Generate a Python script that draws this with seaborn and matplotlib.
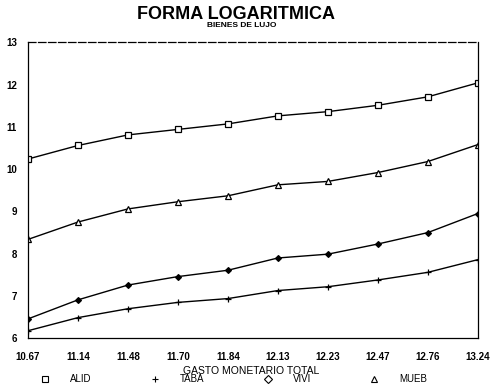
import numpy as np
import seaborn as sns
import matplotlib.pyplot as plt
from matplotlib.lines import Line2D

gasto = ['10.67', '11.14', '11.48', '11.70', '11.84', '12.13', '12.23', '12.47', '12.76', '13.24']
alid = [10.24, 10.56, 10.81, 10.94, 11.07, 11.26, 11.36, 11.51, 11.71, 12.04]
taba = [6.18, 6.49, 6.70, 6.85, 6.94, 7.13, 7.22, 7.38, 7.56, 7.86]
vivi = [6.46, 6.91, 7.26, 7.46, 7.61, 7.90, 7.99, 8.23, 8.50, 8.95]
mueb = [8.34, 8.75, 9.06, 9.23, 9.37, 9.63, 9.71, 9.92, 10.18, 10.58]

sns.set_theme(style='white', rc={'text.color': 'black', 'xtick.color': 'black',
                                 'ytick.color': 'black', 'axes.labelcolor': 'black'})
plt.rcParams['font.family'] = ['Liberation Sans', 'DejaVu Sans']

fig = plt.figure(figsize=(4.92, 3.88), dpi=100)
ax = fig.add_axes([0.057, 0.128, 0.914, 0.763])

pos = np.arange(len(gasto))
series = [('ALID', alid, 's', 'white', 4.2),
          ('TABA', taba, '+', 'black', 4.5),
          ('VIVI', vivi, 'D', 'black', 3.0),
          ('MUEB', mueb, '^', 'white', 4)]

for name, vals, mk, fc, ms in series:
    sns.lineplot(x=pos, y=vals, ax=ax, color='black', lw=1.0, marker=mk,
                 markerfacecolor=fc, markeredgecolor='black', markersize=ms,
                 markeredgewidth=0.9, legend=False)

ax.set_xlim(0, 9)
ax.set_ylim(6, 13)
ax.set_xticks(pos)
ax.set_xticklabels(gasto)
ax.set_yticks(range(6, 14))
ax.tick_params(axis='both', direction='out', length=4, width=0.8, color='black',
               labelsize=7, pad=4, labelcolor='black')
ax.tick_params(axis='x', pad=6)
for lab in ax.get_xticklabels() + ax.get_yticklabels():
    lab.set_fontweight('bold')
for sp in ax.spines.values():
    sp.set_color('black')
    sp.set_linewidth(0.9)
ax.spines['top'].set_linestyle((0, (6, 2)))

fig.text(0.48, 0.962, 'FORMA LOGARITMICA', ha='center', va='center',
         fontsize=13, fontweight='bold', color='black')
fig.text(0.492, 0.934, 'BIENES DE LUJO', ha='center', va='center',
         fontsize=6, fontweight='bold', color='black')
fig.text(0.51, 0.045, 'GASTO MONETARIO TOTAL', ha='center', va='center',
         fontsize=7.5, color='black')

handles = [Line2D([], [], ls='none', marker=mk, color='black', markerfacecolor='white'
                  if mk != '+' else 'black', markersize=4, markeredgewidth=0.8)
           for _, _, mk, _, _ in series]
leg = fig.legend(handles, [s[0] for s in series], loc='center', ncol=4,
                 bbox_to_anchor=(0.475, 0.022), frameon=False, fontsize=7,
                 columnspacing=6.0, handletextpad=2.1, handlelength=1)
for t in leg.get_texts():
    t.set_color('black')

fig.savefig('out.png', dpi=100)
